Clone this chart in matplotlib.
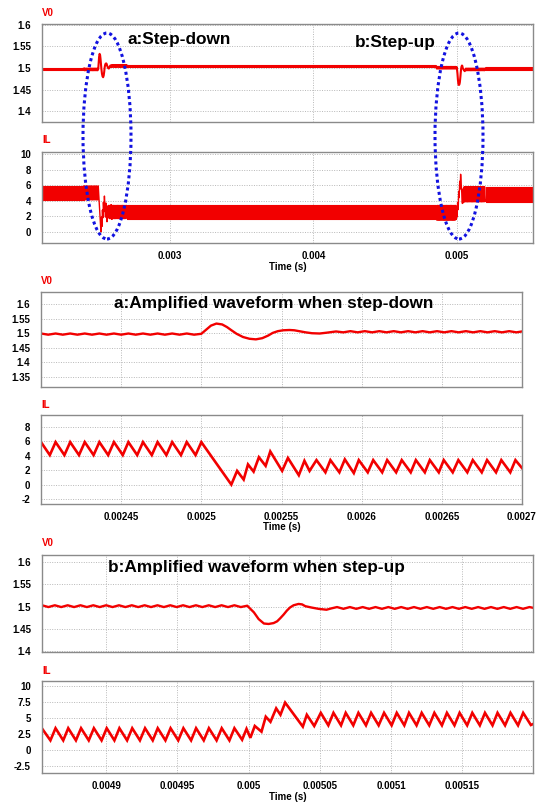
import matplotlib
matplotlib.use("Agg")
import matplotlib.pyplot as plt
from matplotlib.patches import Ellipse
from matplotlib.ticker import FuncFormatter

plt.rcParams['font.family'] = ['Liberation Sans', 'DejaVu Sans']
plt.rcParams['font.weight'] = 'bold'

# ---------------- data (times in microseconds) ----------------
# Step-down zoom window: inductor current IL (A), waveform vertices
ila_t = [2400.0, 2405.5, 2409.1, 2414.6, 2418.2, 2423.7, 2427.3, 2432.8, 2436.4, 2441.9, 2445.5,
         2451.0, 2454.5, 2460.0, 2463.6, 2469.1, 2472.7, 2478.2, 2481.8, 2487.3, 2490.9, 2496.4,
         2500.0, 2518.7, 2522.3, 2526.4, 2529.1, 2532.6, 2535.9, 2540.1, 2543.0, 2550.4, 2554.0,
         2560.8, 2564.3, 2567.5, 2571.8, 2577.4, 2580.5, 2586.1, 2589.5, 2595.1, 2598.2, 2603.8,
         2607.2, 2612.8, 2615.9, 2621.5, 2625.0, 2630.6, 2633.8, 2639.4, 2642.5, 2648.1, 2651.2,
         2656.8, 2660.3, 2665.9, 2669.3, 2674.9, 2678.2, 2683.8, 2687.1, 2692.7, 2695.9, 2700.0]
ila_v = [5.9, 4.1, 5.9, 4.1, 5.9, 4.1, 5.9, 4.1, 5.9, 4.1, 5.9,
         4.1, 5.9, 4.1, 5.9, 4.1, 5.9, 4.1, 5.9, 4.1, 5.9, 4.1,
         5.9, 0.0, 1.9, 0.7, 2.8, 1.8, 3.8, 2.6, 4.6, 1.9, 3.7,
         1.3, 3.3, 1.9, 3.4, 1.7, 3.4, 1.7, 3.5, 1.6, 3.4, 1.7,
         3.4, 1.7, 3.4, 1.7, 3.4, 1.7, 3.4, 1.7, 3.4, 1.7, 3.4,
         1.7, 3.4, 1.7, 3.4, 1.7, 3.4, 1.7, 3.4, 1.7, 3.4, 2.3]

# Step-down zoom window: output voltage V0 (V)
v0a_t = [2400.0, 2404.5, 2409.1, 2413.6, 2418.2, 2422.7, 2427.3, 2431.8, 2436.4, 2440.9, 2445.5,
         2450.0, 2454.5, 2459.1, 2463.6, 2468.2, 2472.7, 2477.3, 2481.8, 2486.4, 2490.9, 2495.5,
         2500.0, 2503.0, 2506.0, 2509.4, 2513.0, 2516.0, 2518.8, 2522.0, 2526.0, 2530.0, 2534.0,
         2538.0, 2541.7, 2544.5, 2547.7, 2551.0, 2555.0, 2558.0, 2561.0, 2565.0, 2569.0, 2573.8,
         2578.5, 2584.0, 2588.5, 2593.0, 2597.5, 2602.0, 2606.5, 2611.0, 2615.5, 2620.0, 2624.5,
         2629.0, 2633.5, 2638.0, 2642.5, 2647.0, 2651.5, 2656.0, 2660.5, 2665.0, 2669.5, 2674.0,
         2678.5, 2683.0, 2687.5, 2692.0, 2696.5, 2700.0]
v0a_v = [1.499, 1.495, 1.499, 1.495, 1.499, 1.495, 1.499, 1.495, 1.499, 1.495, 1.499,
         1.495, 1.499, 1.495, 1.499, 1.495, 1.499, 1.495, 1.499, 1.495, 1.499, 1.495,
         1.498, 1.512, 1.526, 1.533, 1.530, 1.521, 1.510, 1.498, 1.487, 1.481, 1.479,
         1.483, 1.492, 1.501, 1.507, 1.510, 1.511, 1.510, 1.507, 1.503, 1.500, 1.499,
         1.502, 1.506, 1.503, 1.507, 1.503, 1.507, 1.503, 1.507, 1.503, 1.507, 1.503,
         1.507, 1.503, 1.507, 1.503, 1.507, 1.503, 1.507, 1.503, 1.507, 1.503, 1.507,
         1.503, 1.507, 1.503, 1.507, 1.503, 1.506]

# Step-up zoom window: inductor current IL (A)
ilb_t = [4855.5, 4860.9, 4864.5, 4869.9, 4873.4, 4878.8, 4882.4, 4887.8, 4891.4, 4896.8, 4900.4,
         4905.8, 4909.3, 4914.7, 4918.3, 4923.7, 4927.3, 4932.7, 4936.2, 4941.6, 4945.2, 4950.6,
         4954.2, 4959.6, 4963.1, 4968.5, 4972.1, 4977.5, 4981.1, 4986.5, 4990.0, 4995.4, 4998.5,
         5001.2, 5004.3, 5009.0, 5012.0, 5015.3, 5019.3, 5022.3, 5025.6, 5038.0, 5040.8, 5046.0,
         5050.6, 5055.9, 5059.5, 5064.8, 5068.1, 5073.4, 5077.0, 5082.3, 5085.9, 5091.2, 5095.0,
         5100.3, 5103.9, 5109.2, 5112.5, 5117.8, 5121.4, 5126.7, 5130.3, 5135.6, 5139.1, 5144.4,
         5148.0, 5153.3, 5156.9, 5162.2, 5165.8, 5171.1, 5174.6, 5179.9, 5183.7, 5189.0, 5192.6,
         5198.0, 5200.0]
ilb_v = [3.2, 1.5, 3.4, 1.5, 3.4, 1.5, 3.4, 1.5, 3.4, 1.5, 3.4,
         1.5, 3.4, 1.5, 3.4, 1.5, 3.4, 1.5, 3.4, 1.5, 3.4, 1.5,
         3.4, 1.5, 3.4, 1.5, 3.4, 1.5, 3.4, 1.5, 3.4, 1.6, 3.3,
         1.9, 3.75, 2.86, 5.2, 4.4, 6.5, 5.5, 7.4, 3.65, 5.5, 3.75,
         5.8, 3.85, 5.8, 3.85, 5.8, 3.85, 5.8, 3.85, 5.8, 3.85, 5.8,
         3.85, 5.8, 3.85, 5.8, 3.85, 5.8, 3.85, 5.8, 3.85, 5.8, 3.85,
         5.8, 3.85, 5.8, 3.85, 5.8, 3.85, 5.8, 3.85, 5.8, 3.85, 5.8,
         3.9, 4.1]

# Step-up zoom window: output voltage V0 (V)
v0b_t = [4855.0, 4859.5, 4864.0, 4868.5, 4873.0, 4877.5, 4882.0, 4886.5, 4891.0, 4895.5, 4900.0,
         4904.5, 4909.0, 4913.5, 4918.0, 4922.5, 4927.0, 4931.5, 4936.0, 4940.5, 4945.0, 4949.5,
         4954.0, 4958.5, 4963.0, 4967.5, 4972.0, 4976.5, 4981.0, 4985.5, 4990.0, 4994.5, 4999.0,
         5003.7, 5007.0, 5010.7, 5014.0, 5017.5, 5020.0, 5022.2, 5024.5, 5026.8, 5029.0, 5031.5,
         5035.0, 5037.5, 5039.7, 5044.0, 5049.0, 5054.6, 5058.0, 5062.0, 5066.5, 5071.0, 5075.5,
         5080.0, 5084.5, 5089.0, 5093.5, 5098.0, 5102.5, 5107.0, 5111.5, 5116.0, 5120.5, 5125.0,
         5129.5, 5134.0, 5138.5, 5143.0, 5147.5, 5152.0, 5156.5, 5161.0, 5165.5, 5170.0, 5174.5,
         5179.0, 5183.5, 5188.0, 5192.5, 5197.0, 5200.0]
v0b_v = [1.503, 1.499, 1.503, 1.499, 1.503, 1.499, 1.503, 1.499, 1.503, 1.499, 1.503,
         1.499, 1.503, 1.499, 1.503, 1.499, 1.503, 1.499, 1.503, 1.499, 1.503, 1.499,
         1.503, 1.499, 1.503, 1.499, 1.503, 1.499, 1.503, 1.499, 1.503, 1.499, 1.502,
         1.487, 1.472, 1.462, 1.461, 1.463, 1.467, 1.474, 1.482, 1.491, 1.498, 1.503,
         1.506, 1.505, 1.501, 1.498, 1.495, 1.493, 1.496, 1.499, 1.495, 1.499, 1.495,
         1.499, 1.495, 1.499, 1.495, 1.499, 1.495, 1.499, 1.495, 1.499, 1.495, 1.499,
         1.495, 1.499, 1.495, 1.499, 1.495, 1.499, 1.495, 1.499, 1.495, 1.499, 1.495,
         1.499, 1.495, 1.499, 1.495, 1.499, 1.497]

# Overview: steady-state segments outside the zoom windows
ov_t0 = [2110.0, 2700.0, 5200.0]
ov_t1 = [2400.0, 4855.0, 5530.0]
ov_v0 = [1.497, 1.504, 1.498]
ov_v0_ripple = [0.002, 0.002, 0.002]
ov_il_hi = [5.9, 3.4, 5.8]
ov_il_lo = [4.1, 1.6, 3.85]

# Ticks
top_xticks = [0.003, 0.004, 0.005]
v0_top_yticks = [1.4, 1.45, 1.5, 1.55, 1.6]
il_top_yticks = [0, 2, 4, 6, 8, 10]
a_xticks = [0.00245, 0.0025, 0.00255, 0.0026, 0.00265, 0.0027]
v0a_yticks = [1.35, 1.4, 1.45, 1.5, 1.55, 1.6]
ila_yticks = [-2, 0, 2, 4, 6, 8]
b_xticks = [0.0049, 0.00495, 0.005, 0.00505, 0.0051, 0.00515]
v0b_yticks = [1.4, 1.45, 1.5, 1.55, 1.6]
ilb_yticks = [-2.5, 0, 2.5, 5, 7.5, 10]

titles = ["a:Step-down", "b:Step-up", "a:Amplified waveform when step-down",
          "b:Amplified waveform when step-up"]

# ---------------- figure ----------------
W, H = 538, 802
fig = plt.figure(figsize=(W / 100, H / 100), dpi=100)
RED = '#f20000'
US = 1e-6


def sec(lst):
    return [v * US for v in lst]


def add_ax(l, r, t, b):
    return fig.add_axes([l / W, 1 - b / H, (r - l) / W, (b - t) / H])


fmt = FuncFormatter(lambda v, p: '%g' % v)


def style(ax, xlim, ylim, xticks, yticks, xlabels):
    ax.set_xlim(xlim)
    ax.set_ylim(ylim)
    ax.set_xticks(xticks)
    ax.set_yticks(yticks)
    ax.xaxis.set_major_formatter(fmt)
    ax.yaxis.set_major_formatter(fmt)
    ax.tick_params(axis='y', length=0, labelsize=7, pad=8)
    ax.tick_params(axis='x', length=0, labelsize=7, pad=5.5, labelbottom=xlabels)
    ax.grid(True, color='#b8b8b8', linestyle=(0, (1, 1.5)), linewidth=0.7)
    ax.set_axisbelow(True)
    for s in ax.spines.values():
        s.set_color('#8a8a8a')
        s.set_linewidth(1.0)


def label(x, y, s):
    fig.text(x / W, 1 - y / H, s, color=RED, fontsize=7, fontweight='bold', ha='left', va='center')


def ftext(x, y, s, size, ha='left', va='baseline'):
    fig.text(x / W, 1 - y / H, s, color='black', fontsize=size, fontweight='bold', ha=ha, va=va)


top_xlim = (0.002108, 0.00553)

# Panel 1: overview V0
ax1 = add_ax(42, 533, 24, 122)
for t0, t1, v, r in zip(ov_t0, ov_t1, ov_v0, ov_v0_ripple):
    ax1.fill_between([t0 * US, t1 * US], [v - r, v - r], [v + r, v + r],
                     color=RED, lw=1.5, edgecolor=RED)
ax1.plot(sec(v0a_t), v0a_v, color=RED, lw=1.5, solid_joinstyle='round')
ax1.plot(sec(v0b_t), v0b_v, color=RED, lw=1.5, solid_joinstyle='round')
style(ax1, top_xlim, (1.3755, 1.602), top_xticks, v0_top_yticks, False)
label(42, 13, 'V0')

# Panel 2: overview IL
ax2 = add_ax(42, 533, 152, 243)
for t0, t1, hi, lo in zip(ov_t0, ov_t1, ov_il_hi, ov_il_lo):
    ax2.fill_between([t0 * US, t1 * US], [lo, lo], [hi, hi], color=RED, lw=0.8, edgecolor=RED)
ax2.plot(sec(ila_t), ila_v, color=RED, lw=1.0)
ax2.plot(sec(ilb_t), ilb_v, color=RED, lw=1.0)
style(ax2, top_xlim, (-1.43, 10.26), top_xticks, il_top_yticks, True)
label(42, 140, 'IL')
ftext(287.5, 267, 'Time (s)', 7, ha='center', va='center')

# Panel 3: step-down zoom V0
ax3 = add_ax(41, 522, 292, 387)
ax3.plot(sec(v0a_t), v0a_v, color=RED, lw=1.7, solid_joinstyle='round')
style(ax3, (0.0024, 0.0027), (1.316, 1.641), a_xticks, v0a_yticks, False)
label(41, 281, 'V0')

# Panel 4: step-down zoom IL
ax4 = add_ax(41, 522, 415, 504)
ax4.plot(sec(ila_t), ila_v, color=RED, lw=1.9, solid_joinstyle='miter')
style(ax4, (0.0024, 0.0027), (-2.7, 9.67), a_xticks, ila_yticks, True)
label(41, 405, 'IL')
ftext(281.5, 527.5, 'Time (s)', 7, ha='center', va='center')

# Panel 5: step-up zoom V0
ax5 = add_ax(42, 533, 555, 652)
ax5.plot(sec(v0b_t), v0b_v, color=RED, lw=1.7, solid_joinstyle='round')
style(ax5, (0.004855, 0.0051995), (1.398, 1.616), b_xticks, v0b_yticks, False)
label(42, 543, 'V0')

# Panel 6: step-up zoom IL
ax6 = add_ax(42, 533, 681, 773)
ax6.plot(sec(ilb_t), ilb_v, color=RED, lw=1.9, solid_joinstyle='miter')
style(ax6, (0.004855, 0.0051995), (-3.6, 10.78), b_xticks, ilb_yticks, True)
label(42, 671, 'IL')
ftext(287.5, 797, 'Time (s)', 7, ha='center', va='center')

# Titles
ftext(128, 44.3, titles[0], 12.4)
ftext(355, 47.3, titles[1], 12.4)
ftext(114, 307.7, titles[2], 12.4)
ftext(108, 572.3, titles[3], 12.4)

# Dotted ellipses marking the transients
for cx in (107, 459):
    e = Ellipse((cx / W, 1 - 136 / H), 48 / W, 206 / H, transform=fig.transFigure,
                fill=False, edgecolor='#1212e0', lw=2.2, linestyle=(0, (1, 1)), zorder=10)
    fig.add_artist(e)

fig.savefig('out.png', dpi=100)
